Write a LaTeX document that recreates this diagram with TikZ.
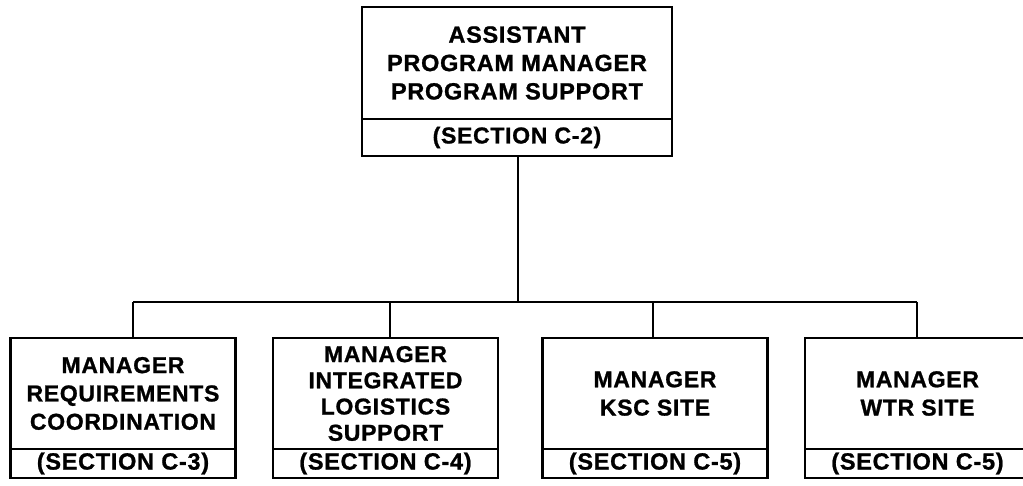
\documentclass[tikz,border=0pt]{standalone}
\usepackage{fontspec}
\newfontfamily\chartfont[LetterSpace=3, BoldFeatures={FakeBold=1}]{Liberation Sans}
\begin{document}
\begin{tikzpicture}[x=1pt,y=-1pt,
  rule/.style={line width=2.2pt, line join=miter},
  frame/.style={draw, rule, inner sep=0pt, outer sep=0pt, align=center},
  headbox/.style={frame, minimum width=310pt, minimum height=112pt,
    font=\chartfont\bfseries\fontsize{23.5}{28.4}\selectfont},
  headsec/.style={frame, minimum width=310pt, minimum height=37pt,
    font=\chartfont\bfseries\fontsize{23}{26}\selectfont},
  unitbox/.style={frame, minimum width=225pt, minimum height=111pt,
    font=\chartfont\bfseries\fontsize{23}{28.3}\selectfont},
  unitsec/.style={frame, minimum width=225pt, minimum height=29pt,
    font=\chartfont\bfseries\fontsize{23.5}{26}\selectfont},
  link/.style={rule}
]
\useasboundingbox (0,0) rectangle (1023,486);
\clip (0,0) rectangle (1023,486);

% head of the organisation
\node[headbox] (apm) at (517,63) {ASSISTANT\\PROGRAM MANAGER\\PROGRAM SUPPORT};
\node[headsec, anchor=north] (apmsec) at (apm.south) {(SECTION C-2)};

% four managers
\node[unitbox] (req) at (123,393.5) {MANAGER\\REQUIREMENTS\\COORDINATION};
\node[unitsec, anchor=north] (reqsec) at (req.south) {(SECTION C-3)};

\node[unitbox, font=\chartfont\bfseries\fontsize{23}{26.2}\selectfont]
  (ils) at (385.5,393.5) {MANAGER\\INTEGRATED\\LOGISTICS\\SUPPORT};
\node[unitsec, anchor=north] (ilssec) at (ils.south) {(SECTION C-4)};

\node[unitbox] (ksc) at (655,393.5) {MANAGER\\KSC SITE};
\node[unitsec, anchor=north] (kscsec) at (ksc.south) {(SECTION C-5)};

\node[unitbox] (wtr) at (917.5,393.5) {MANAGER\\WTR SITE};
\node[unitsec, anchor=north] (wtrsec) at (wtr.south) {(SECTION C-5)};

% bus connecting the head to the managers
\coordinate (bus) at (518,302);
\coordinate (busL) at (133,302);
\coordinate (busR) at (917,302);
\draw[link] (apmsec.south -| bus) -- (bus);
\draw[link] (busL) -- (busR);
\draw[link] (busL) -- (busL |- req.north);
\draw[link] (390,302) -- (390,338);
\draw[link] (653,302) -- (653,338);
\draw[link] (busR) -- (busR |- wtr.north);
\end{tikzpicture}
\end{document}
